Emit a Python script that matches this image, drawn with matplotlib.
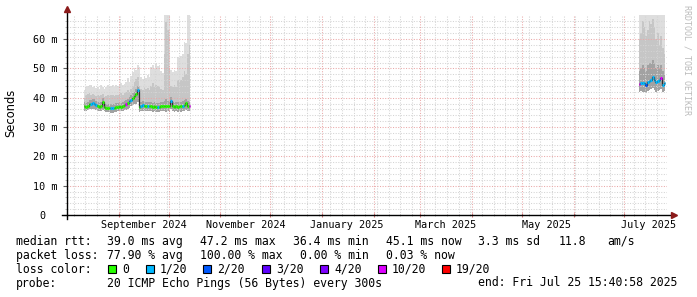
import numpy as np
import pandas as pd
import matplotlib
matplotlib.use("Agg")
import matplotlib.pyplot as plt
import matplotlib.dates as mdates
from matplotlib.patches import Rectangle
from matplotlib.lines import Line2D

# ---- data (ms) ----
# segment 1: daily values from 2024-08-11
seg1_start = "2024-08-11"
median1 = [37.0, 36.8, 37.2, 37.8, 37.9, 38.2, 38.0, 37.6, 37.0, 36.8,
           37.0, 38.6, 36.8, 36.6, 36.5, 36.5, 36.4, 36.4, 36.5, 36.7,
           36.8, 37.0, 36.8, 37.1, 37.4, 37.7, 38.2, 38.8, 39.3, 40.0,
           40.5, 41.2, 42.6, 36.9, 37.3, 37.4, 37.2, 37.0, 37.3, 37.0,
           37.0, 36.8, 37.1, 36.9, 36.7, 36.9, 37.2, 37.0, 37.1, 37.0,
           37.3, 37.0, 39.0, 37.2, 36.9, 37.0, 36.9, 37.1, 37.0, 37.3,
           37.4, 38.3, 37.2, 37.0]
loss1 = [0, 0, 0, 0, 1, 1, 1, 1, 0, 0,
         0, 0, 0, 0, 0, 0, 1, 1, 0, 0,
         0, 0, 0, 0, 0, 10, 0, 1, 1, 0,
         0, 0, 1, 0, 1, 1, 0, 0, 1, 0,
         0, 0, 0, 0, 1, 0, 0, 0, 0, 0,
         0, 0, 1, 0, 0, 0, 0, 0, 0, 1,
         0, 0, 0, 10]
hi1 = [42.5, 43.5, 44.0, 44.5, 44.3, 43.8, 44.0, 43.2, 43.8, 43.0,
       44.2, 43.5, 43.0, 43.8, 44.3, 43.6, 44.0, 44.5, 43.8, 44.2,
       43.9, 44.6, 45.0, 44.2, 44.8, 45.5, 46.8, 45.2, 47.5, 48.6,
       50.2, 49.5, 51.0, 50.3, 47.0, 46.3, 47.5, 46.8, 47.8, 47.2,
       50.5, 51.2, 49.8, 51.5, 50.8, 51.0, 49.0, 48.5, 70.0, 70.0,
       70.0, 70.0, 49.5, 48.8, 49.6, 49.0, 54.0, 53.5, 54.2, 55.0,
       59.0, 58.5, 70.0, 70.0]
mid1 = [40.0, 40.8, 41.2, 41.5, 41.0, 41.3, 41.0, 40.6, 40.8, 40.5,
        41.0, 41.2, 40.4, 40.6, 40.8, 40.5, 40.8, 41.0, 40.6, 40.9,
        41.0, 41.3, 41.5, 41.0, 41.6, 42.0, 42.5, 42.0, 43.0, 44.0,
        45.5, 46.5, 47.0, 44.0, 43.0, 42.5, 43.5, 42.8, 43.2, 42.6,
        44.0, 45.0, 43.5, 44.5, 44.0, 43.8, 43.0, 42.6, 55.0, 65.8,
        63.0, 50.0, 44.0, 43.5, 44.2, 43.8, 46.0, 45.5, 46.0, 47.0,
        49.0, 48.0, 55.0, 58.0]
core1 = [38.4, 38.2, 38.6, 39.2, 39.3, 39.6, 39.4, 39.0, 38.4, 38.2,
         38.4, 39.8, 38.2, 38.0, 37.9, 37.9, 37.8, 37.8, 37.9, 38.1,
         38.2, 38.4, 38.2, 38.5, 38.8, 39.1, 39.6, 40.2, 40.8, 41.5,
         42.0, 42.8, 44.0, 38.8, 38.7, 38.8, 38.6, 38.4, 38.7, 38.4,
         38.4, 38.2, 38.5, 38.3, 38.1, 38.3, 38.6, 38.4, 39.0, 39.5,
         39.0, 38.4, 40.4, 38.6, 38.3, 38.4, 38.6, 38.5, 38.6, 38.9,
         39.2, 39.7, 38.8, 38.6]
lo1 = [35.6, 35.5, 35.8, 36.0, 36.0, 36.2, 36.0, 35.8, 35.5, 35.4,
       35.6, 35.8, 35.3, 35.2, 35.0, 35.0, 34.9, 34.8, 35.0, 35.2,
       35.3, 35.4, 35.3, 35.5, 35.7, 35.9, 36.2, 36.6, 37.0, 37.5,
       37.8, 38.0, 38.5, 35.2, 35.5, 35.6, 35.4, 35.3, 35.5, 35.3,
       35.3, 35.2, 35.4, 35.2, 35.1, 35.2, 35.4, 35.3, 35.3, 35.2,
       35.4, 35.2, 36.0, 35.4, 35.2, 35.3, 35.2, 35.3, 35.2, 35.4,
       35.5, 35.8, 35.4, 35.3]

# segment 2: daily values from 2025-07-10
seg2_start = "2025-07-10"
median2 = [44.7, 45.1, 45.0, 44.9, 44.3, 45.4, 45.8, 46.0, 47.2, 46.0,
           45.2, 45.6, 45.9, 46.6, 44.3, 45.1]
loss2 = [10, 1, 1, 1, 2, 1, 1, 1, 1, 1, 1, 1, 1, 10, 1, 1]
hi2 = [70.0] * 16
mid2 = [60.0, 62.0, 66.0, 64.0, 61.0, 63.0, 66.0, 65.0, 67.0, 64.0,
        60.0, 62.0, 58.0, 61.0, 57.0, 55.0]
core2 = [49.0, 50.0, 51.0, 50.0, 49.0, 51.0, 52.0, 52.0, 53.0, 52.0,
         50.0, 51.0, 50.0, 51.0, 49.0, 48.0]
lo2 = [42.0, 42.3, 42.0, 41.8, 41.6, 42.2, 42.5, 42.8, 43.2, 42.6,
       42.0, 42.4, 42.6, 43.0, 41.8, 42.2]

loss_levels = [0, 1, 2, 3, 4, 10, 19]
loss_names = ["0", "1/20", "2/20", "3/20", "4/20", "10/20", "19/20"]
loss_colors = ["#26ff00", "#00b8ff", "#0059ff", "#5e00ff", "#7e00ff", "#dd00ff", "#ff0000"]

month_labels = ["September 2024", "November 2024", "January 2025",
                "March 2025", "May 2025", "July 2025"]
month_label_dates = ["2024-09-16", "2024-11-16", "2025-01-16",
                     "2025-03-16", "2025-05-16", "2025-07-16"]

W, H = 697, 297
mono = "DejaVu Sans Mono"

fig = plt.figure(figsize=(W / 100, H / 100), dpi=100)
fig.patch.set_facecolor("white")
ax = fig.add_axes([67 / W, 82 / H, 600 / W, 200 / H])


def draw_segment(start, med, loss, lo, core, mid, hi):
    n = len(med)
    edges = mdates.date2num(pd.date_range(start, periods=n + 1, freq="D"))
    ax.stairs(hi, edges, baseline=lo, fill=True, color="#dedede", lw=0)
    ax.stairs(mid, edges, baseline=lo, fill=True, color="#c6c6c6", lw=0)
    ax.stairs(core, edges, baseline=lo, fill=True, color="#a2a2a2", lw=0)
    # thin dark connectors between the median steps
    ax.stairs(med, edges, baseline=None, color="#303030", lw=0.9, zorder=3)
    cols = [loss_colors[loss_levels.index(l)] for l in loss]
    ax.hlines(med, edges[:-1], edges[1:], colors=cols, lw=2.2, zorder=4)


draw_segment(seg1_start, median1, loss1, lo1, core1, mid1, hi1)
draw_segment(seg2_start, median2, loss2, lo2, core2, mid2, hi2)

ax.set_xlim(mdates.date2num(pd.Timestamp("2024-08-01")),
            mdates.date2num(pd.Timestamp("2025-07-27")))
ax.set_ylim(0, 68.2)

# grid
ax.xaxis.set_major_locator(mdates.MonthLocator())
ax.xaxis.set_minor_locator(mdates.WeekdayLocator(byweekday=mdates.MO))
ax.xaxis.set_major_formatter(plt.NullFormatter())
ax.set_yticks(np.arange(0, 61, 10))
ax.set_yticks(np.arange(0, 68, 2), minor=True)
ax.set_yticklabels(["0  ", "10 m", "20 m", "30 m", "40 m", "50 m", "60 m"],
                   family=mono, fontsize=7.3)
ax.grid(which="minor", color="#d4d4d4", linestyle=(0, (1, 1.5)), lw=0.75)
ax.grid(which="major", color="#eaa8a8", linestyle=(0, (1, 1.5)), lw=0.75)
ax.set_axisbelow(False)
ax.tick_params(axis="y", which="major", length=3, color="#606060", pad=3.5)
ax.tick_params(axis="y", which="minor", length=1.5, color="#b0b0b0")
ax.tick_params(axis="x", which="major", length=2.5, color="#d07070", direction="inout")
ax.tick_params(axis="x", which="minor", length=1.5, color="#b0b0b0", direction="inout")

for s in ax.spines.values():
    s.set_visible(False)

# axes with arrows
ax.add_line(Line2D([-0.008, 1.01], [0, 0], transform=ax.transAxes, color="black",
                   lw=1, clip_on=False, zorder=5))
ax.add_line(Line2D([0, 0], [-0.02, 1.03], transform=ax.transAxes, color="black",
                   lw=1, clip_on=False, zorder=5))
ax.plot([1.012], [0], marker=">", ms=4, color="#8b1a1a", transform=ax.transAxes,
        clip_on=False, zorder=6)
ax.plot([0], [1.032], marker="^", ms=4, color="#8b1a1a", transform=ax.transAxes,
        clip_on=False, zorder=6)

for d, lab in zip(month_label_dates, month_labels):
    ax.text(mdates.date2num(pd.Timestamp(d)), -0.05, lab, transform=ax.get_xaxis_transform(),
            ha="center", va="center", family=mono, fontsize=7.3)


def ftext(x, y, s, **kw):
    fig.text(x / W, 1 - y / H, s, va="center", family=mono, fontsize=8.3, **kw)


fig.text(11 / W, 1 - 113 / H, "Seconds", rotation=90, ha="center", va="center",
         family="DejaVu Sans", fontsize=8.3)
fig.text(687 / W, 1 - 60 / H, "RRDTOOL / TOBI OETIKER", rotation=270, ha="center",
         va="center", family=mono, fontsize=6, color="#bbbbbb")

# legend rows
ftext(16, 241.5, "median rtt:")
ftext(107, 241.5, "39.0 ms avg")
ftext(200, 241.5, "47.2 ms max")
ftext(293, 241.5, "36.4 ms min")
ftext(386, 241.5, "45.1 ms now")
ftext(478, 241.5, "3.3 ms sd")
ftext(559, 241.5, "11.8")
ftext(607, 241.5, "am/s")

ftext(16, 255.5, "packet loss:")
ftext(107, 255.5, "77.90 % avg")
ftext(200, 255.5, "100.00 % max")
ftext(300, 255.5, "0.00 % min")
ftext(386, 255.5, "0.03 % now")

ftext(16, 269.5, "loss color:")
box_x = [108, 146, 203, 262, 320, 378, 442]
for bx, name, col in zip(box_x, loss_names, loss_colors):
    fig.add_artist(Rectangle((bx / W, 1 - 273 / H), 8 / W, 8 / H, transform=fig.transFigure,
                             facecolor=col, edgecolor="black", lw=0.8))
    ftext(bx + 14, 269.5, name)

ftext(16, 283, "probe:")
ftext(107, 283, "20 ICMP Echo Pings (56 Bytes) every 300s")
ftext(478, 283, "end: Fri Jul 25 15:40:58 2025")

fig.savefig("out.png", dpi=100)
